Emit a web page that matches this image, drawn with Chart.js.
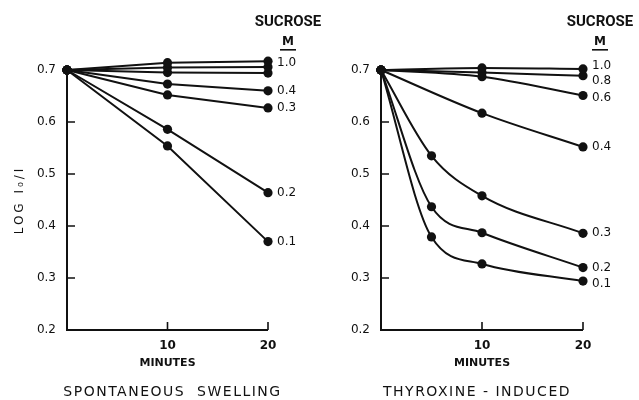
<!DOCTYPE html>
<html>
<head>
<meta charset="utf-8">
<script src="https://cdn.jsdelivr.net/npm/chart.js@4.4.1/dist/chart.umd.min.js"></script>
<style>
  html, body { margin: 0; padding: 0; background: #fff; }
  #wrap { position: relative; width: 639px; height: 400px; overflow: hidden; }
  canvas { position: absolute; top: 0; }
</style>
</head>
<body>
<div id="wrap">
  <canvas id="spont" width="330" height="400" style="left:0"></canvas>
  <canvas id="thyrox" width="319" height="400" style="left:320px"></canvas>
</div>
<script>
// sampling times (minutes)
const spontMinutes = [0, 10, 20];
const thyroxSlowMinutes = [0, 10, 20];
const thyroxFastMinutes = [0, 5, 10, 20];

// axis ticks
const yTicks = [0.2, 0.3, 0.4, 0.5, 0.6, 0.7];
const xTicks = [10, 20];

// sucrose molarity of each curve, top to bottom
const sucrose = ['1.0', '0.8', '0.6', '0.4', '0.3', '0.2', '0.1'];
// which molarities are printed at the line ends
const spontPrinted = ['1.0', '0.4', '0.3', '0.2', '0.1'];
const thyroxPrinted = ['1.0', '0.8', '0.6', '0.4', '0.3', '0.2', '0.1'];

// LOG Io/I, spontaneous swelling
const spont_1_0 = [0.700, 0.714, 0.717];
const spont_0_8 = [0.700, 0.705, 0.706];
const spont_0_6 = [0.700, 0.695, 0.694];
const spont_0_4 = [0.700, 0.673, 0.660];
const spont_0_3 = [0.700, 0.652, 0.627];
const spont_0_2 = [0.700, 0.586, 0.464];
const spont_0_1 = [0.700, 0.554, 0.370];

// LOG Io/I, thyroxine-induced
const thyrox_1_0 = [0.700, 0.704, 0.702];
const thyrox_0_8 = [0.700, 0.695, 0.689];
const thyrox_0_6 = [0.700, 0.687, 0.651];
const thyrox_0_4 = [0.700, 0.617, 0.552];
const thyrox_0_3 = [0.700, 0.535, 0.458, 0.386];
const thyrox_0_2 = [0.700, 0.437, 0.387, 0.320];
const thyrox_0_1 = [0.700, 0.379, 0.327, 0.294];

const ink = '#111';
const font = "'DejaVu Sans', 'Liberation Sans', sans-serif";

// small vertical nudges so end labels don't collide
const spontNudge = { '1.0': 2 };
const thyroxNudge = { '1.0': -3, '0.8': 5, '0.6': 2, '0.1': 3 };

function series(minutes, values, molar, printed, nudge, smooth) {
  return {
    label: molar + ' M',
    data: minutes.map((m, i) => ({ x: m, y: values[i] })),
    tag: printed.includes(molar) ? molar : '',
    tagShift: nudge[molar] || 0,
    showLine: true,
    borderColor: ink,
    backgroundColor: ink,
    borderWidth: 2,
    pointRadius: 4.6,
    pointBorderWidth: 0,
    clip: false,
    tension: 0,
    cubicInterpolationMode: smooth ? 'monotone' : 'default'
  };
}

const spontValues = [spont_1_0, spont_0_8, spont_0_6, spont_0_4, spont_0_3, spont_0_2, spont_0_1];
const thyroxValues = [thyrox_1_0, thyrox_0_8, thyrox_0_6, thyrox_0_4, thyrox_0_3, thyrox_0_2, thyrox_0_1];

const spontSets = spontValues.map((v, i) =>
  series(spontMinutes, v, sucrose[i], spontPrinted, spontNudge, false));
const thyroxSets = thyroxValues.map((v, i) =>
  series(v.length === 4 ? thyroxFastMinutes : thyroxSlowMinutes, v, sucrose[i], thyroxPrinted, thyroxNudge, true));

const yLow = yTicks[0];
const yHigh = yTicks[yTicks.length - 1];

// axis lines (only up to 0.7), inward ticks, end labels, header, caption, y title
const decor = {
  id: 'decor',
  beforeDatasetsDraw(chart) {
    const { ctx, scales: { x, y } } = chart;
    const x0 = x.getPixelForValue(x.min), x1 = x.getPixelForValue(x.max);
    const yb = y.getPixelForValue(yLow), yt = y.getPixelForValue(yHigh);
    ctx.save();
    ctx.strokeStyle = ink;
    ctx.lineWidth = 2;
    ctx.beginPath();
    ctx.moveTo(x0, yt);
    ctx.lineTo(x0, yb);
    ctx.lineTo(x1, yb);
    ctx.stroke();
    ctx.lineWidth = 1.6;
    ctx.beginPath();
    y.ticks.forEach(t => {
      if (t.value <= yLow || t.value >= yHigh) return;
      const py = y.getPixelForValue(t.value);
      ctx.moveTo(x0, py);
      ctx.lineTo(x0 + 8, py);
    });
    x.ticks.forEach(t => {
      if (t.value <= x.min) return;
      const px = x.getPixelForValue(t.value);
      ctx.moveTo(px, yb);
      ctx.lineTo(px, yb - 8);
    });
    ctx.stroke();
    ctx.restore();
  },
  afterDraw(chart, args, opts) {
    const { ctx, scales: { x, y } } = chart;
    const yb = y.getPixelForValue(yLow), yt = y.getPixelForValue(yHigh);
    const a = chart.chartArea;
    ctx.save();
    ctx.fillStyle = ink;
    ctx.font = '12px ' + font;
    ctx.textAlign = 'left';
    ctx.textBaseline = 'middle';
    chart.data.datasets.forEach((ds, i) => {
      if (!ds.tag) return;
      const pts = chart.getDatasetMeta(i).data;
      const p = pts[pts.length - 1];
      ctx.fillText(ds.tag, p.x + 9, p.y + ds.tagShift);
    });

    const hx = x.getPixelForValue(x.max) + opts.headerShift;
    ctx.textAlign = 'center';
    ctx.font = "bold 15px Roboto, 'DejaVu Sans', sans-serif";
    ctx.fillText('SUCROSE', hx, yt - 48);
    ctx.font = 'bold 12px ' + font;
    ctx.fillText('M', hx, yt - 28);
    ctx.fillRect(hx - 8, yt - 21, 16, 1.6);

    ctx.font = '14px ' + font;
    ctx.letterSpacing = '1.5px';
    ctx.fillText(opts.caption, (a.left + a.right) / 2 + opts.captionShift, 392);

    if (opts.yTitle) {
      ctx.font = '12px ' + font;
      ctx.letterSpacing = '3px';
      ctx.translate(20, (yt + yb) / 2);
      ctx.rotate(-Math.PI / 2);
      ctx.fillText(opts.yTitle, 0, 0);
    }
    ctx.restore();
  }
};

function makeChart(id, datasets, axisWidth, padRight, caption, captionShift, headerShift, yTitle) {
  return new Chart(document.getElementById(id), {
    type: 'scatter',
    data: { datasets },
    plugins: [decor],
    options: {
      responsive: false,
      animation: false,
      events: [],
      layout: { padding: { left: 0, right: padRight, top: 57, bottom: 30 } },
      plugins: {
        legend: { display: false },
        tooltip: { enabled: false },
        decor: { caption, captionShift, headerShift, yTitle }
      },
      scales: {
        x: {
          type: 'linear',
          min: 0,
          max: 20,
          afterBuildTicks: s => { s.ticks = xTicks.map(v => ({ value: v })); },
          afterFit: s => { s.height = 40; },
          grid: { display: false, drawTicks: false },
          border: { display: false },
          ticks: {
            padding: 9,
            color: ink,
            font: { family: font, size: 12, weight: 'bold' },
            callback: v => String(v)
          },
          title: {
            display: true,
            text: 'MINUTES',
            color: ink,
            font: { family: font, size: 11, weight: 'bold' },
            padding: { top: 0, bottom: 0 }
          }
        },
        y: {
          type: 'linear',
          min: yLow,
          max: 0.725,
          afterBuildTicks: s => { s.ticks = yTicks.map(v => ({ value: v })); },
          afterFit: s => { s.width = axisWidth; },
          grid: { display: false, drawTicks: false },
          border: { display: false },
          ticks: {
            padding: 11,
            color: ink,
            font: { family: font, size: 12 },
            callback: v => v.toFixed(1)
          }
        }
      }
    }
  });
}

makeChart('spont', spontSets, 67, 62, 'SPONTANEOUS  SWELLING', 5, 20, 'LOG I\u2080/I');
makeChart('thyrox', thyroxSets, 61, 56, 'THYROXINE - INDUCED', -5, 17, '');
</script>
</body>
</html>
